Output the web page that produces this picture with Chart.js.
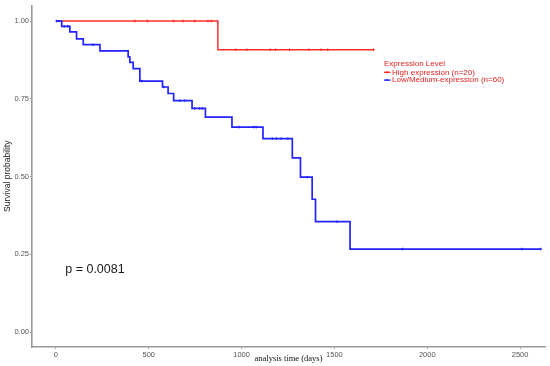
<!DOCTYPE html>
<html><head><meta charset="utf-8">
<script src="https://cdn.jsdelivr.net/npm/chart.js@4/dist/chart.umd.min.js"></script>
<style>html,body{margin:0;padding:0;background:#fff}</style>
</head><body>
<canvas id="c" width="550" height="366"></canvas>
<script>
// ---- data ----
const highTimes = [0, 872, 1710];
const highSurv = [1.0, 0.908, 0.908];
const highCensor = [425, 493, 634, 684, 747, 819, 837, 968, 1028, 1154, 1183, 1258, 1362, 1428, 1464, 1710];
const lowTimes = [0, 31, 75, 111, 147, 237, 389, 398, 416, 452, 574, 604, 634, 733, 805, 948, 1115, 1273, 1317, 1380, 1398, 1584, 2611];
const lowSurv = [1, 0.983, 0.965, 0.943, 0.924, 0.904, 0.885, 0.867, 0.847, 0.807, 0.788, 0.767, 0.744, 0.719, 0.691, 0.659, 0.622, 0.56, 0.498, 0.427, 0.355, 0.267, 0.267];
const lowCensor = [4, 45, 63, 200, 462, 581, 667, 694, 747, 774, 789, 985, 1066, 1079, 1165, 1187, 1213, 1249, 1353, 1514, 1867, 2509, 2611];
const xTicks = [0, 500, 1000, 1500, 2000, 2500];
const yTicks = [0, 0.25, 0.5, 0.75, 1];
const seriesNames = ['High expression (n=20)', 'Low/Medium-expression (n=60)'];
const legendTitle = 'Expression Level';
const pText = 'p = 0.0081';
const xTitle = 'analysis time (days)';
const yTitle = 'Survival probability';

const RED = 'rgb(255,45,45)';
const BLUE = 'rgb(35,35,255)';

function survAt(times, surv, t) {
  let s = surv[0];
  for (let i = 0; i < times.length; i++) { if (times[i] <= t) s = surv[i]; }
  return s;
}
const toPts = (ts, ss) => ts.map((t, i) => ({x: t, y: ss[i]}));
const censorPts = (cs, ts, ss) => cs.map(t => ({x: t, y: survAt(ts, ss, t)}));

const overlay = {
  id: 'overlay',
  afterDraw(chart) {
    const ctx = chart.ctx;
    const xs = chart.scales.x, ys = chart.scales.y;
    ctx.save();
    // p-value
    ctx.fillStyle = '#1a1a1a';
    ctx.font = '12.5px Arial, "Liberation Sans", sans-serif';
    ctx.textBaseline = 'middle';
    ctx.textAlign = 'left';
    ctx.fillText(pText, xs.getPixelForValue(50), ys.getPixelForValue(0.2));
    // x title
    ctx.font = '8.5px "Times New Roman", "Liberation Serif", serif';
    ctx.fillStyle = '#111';
    ctx.textAlign = 'center';
    ctx.fillText(xTitle, (chart.chartArea.left + chart.chartArea.right) / 2, 359);
    // y title
    ctx.save();
    ctx.translate(8, (chart.chartArea.top + chart.chartArea.bottom) / 2);
    ctx.rotate(-Math.PI / 2);
    ctx.font = '8.5px Arial, "Liberation Sans", sans-serif';
    ctx.fillStyle = '#222';
    ctx.fillText(yTitle, 0, 0);
    ctx.restore();
    // legend
    ctx.textAlign = 'left';
    ctx.font = '8px Arial, "Liberation Sans", sans-serif';
    ctx.fillStyle = 'rgb(225,35,35)';
    ctx.fillText(legendTitle, 384, 64);
    const cols = [RED, BLUE];
    seriesNames.forEach((n, i) => {
      const y = 72.3 + i * 7.8;
      ctx.strokeStyle = cols[i];
      ctx.lineWidth = 1.4;
      ctx.beginPath(); ctx.moveTo(384, y); ctx.lineTo(390.5, y); ctx.stroke();
      ctx.beginPath(); ctx.moveTo(387.2, y - 1); ctx.lineTo(387.2, y + 1); ctx.stroke();
      ctx.fillStyle = 'rgb(225,35,35)';
      ctx.fillText(n, 392, y);
    });
    ctx.restore();
  }
};

new Chart(document.getElementById('c'), {
  type: 'scatter',
  data: {
    datasets: [
      {label: seriesNames[1], data: toPts(lowTimes, lowSurv), showLine: true, stepped: 'before',
       borderColor: BLUE, borderWidth: 1.7, pointRadius: 0, fill: false},
      {label: seriesNames[1] + ' censored', data: censorPts(lowCensor, lowTimes, lowSurv), showLine: false,
       pointStyle: 'cross', pointRadius: 1.3, borderColor: BLUE, borderWidth: 1, backgroundColor: BLUE},
      {label: seriesNames[0], data: toPts(highTimes, highSurv), showLine: true, stepped: 'before',
       borderColor: RED, borderWidth: 1.5, pointRadius: 0, fill: false},
      {label: seriesNames[0] + ' censored', data: censorPts(highCensor, highTimes, highSurv), showLine: false,
       pointStyle: 'cross', pointRadius: 1.3, borderColor: RED, borderWidth: 1, backgroundColor: RED}
    ]
  },
  options: {
    responsive: false,
    animation: false,
    layout: {padding: {top: 3, right: 4, left: 0, bottom: 0}},
    plugins: {legend: {display: false}, tooltip: {enabled: false}},
    scales: {
      x: {
        type: 'linear', min: -129, max: 2634,
        afterBuildTicks: s => { s.ticks = xTicks.map(v => ({value: v})); },
        afterFit: s => { s.height = 19; },
        grid: {drawOnChartArea: false, drawTicks: true, tickLength: 2, color: '#9a9a9a', tickWidth: 1},
        border: {display: true, color: '#9a9a9a', width: 1.6},
        ticks: {color: '#555', font: {size: 7.5, family: 'Arial, "Liberation Sans", sans-serif'}, padding: 1, maxRotation: 0,
                callback: v => String(v)}
      },
      y: {
        type: 'linear', min: -0.048, max: 1.05,
        afterBuildTicks: s => { s.ticks = yTicks.map(v => ({value: v})); },
        afterFit: s => { s.width = 32; },
        grid: {drawOnChartArea: false, drawTicks: true, tickLength: 2, color: '#9a9a9a', tickWidth: 1},
        border: {display: true, color: '#9a9a9a', width: 1.6},
        ticks: {color: '#555', font: {size: 7.5, family: 'Arial, "Liberation Sans", sans-serif'}, padding: 1,
                callback: v => v.toFixed(2)}
      }
    }
  },
  plugins: [overlay]
});
</script>
</body></html>
